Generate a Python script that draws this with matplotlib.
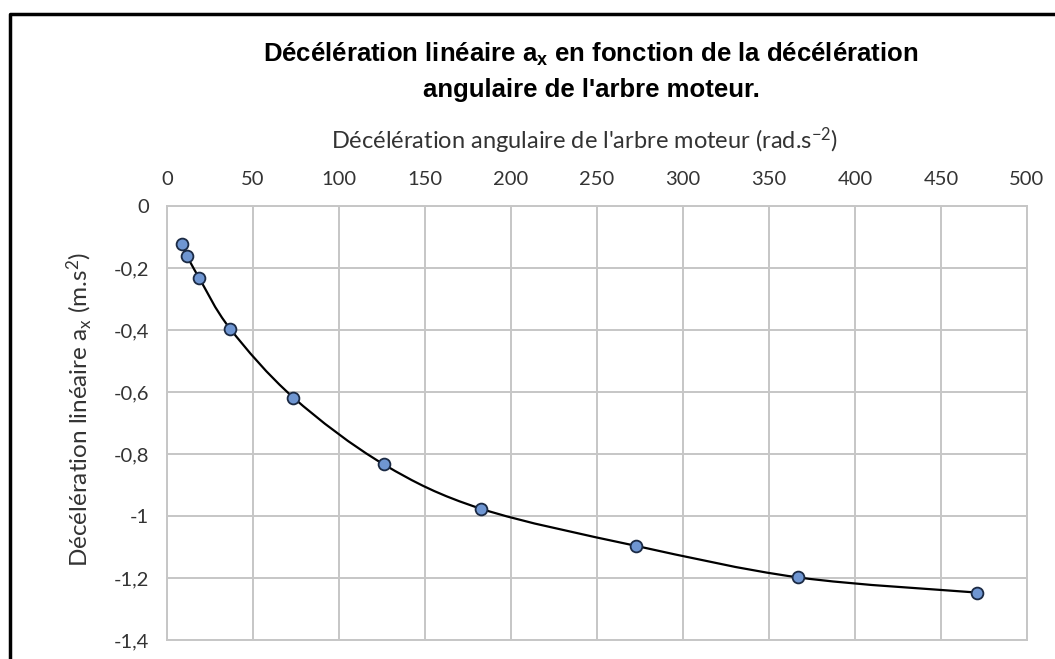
#!/usr/bin/env python3
"""Décélération linéaire a_x vs décélération angulaire de l'arbre moteur."""
import matplotlib
matplotlib.use("Agg")
import matplotlib.pyplot as plt
from matplotlib.path import Path
from matplotlib.patches import PathPatch
from matplotlib.lines import Line2D

# values
ang_dec = [8.5, 11.5, 18.6, 36.7, 73.5, 125.9, 182.8, 272.4, 366.9, 470.9]
lin_dec = [-0.124, -0.160, -0.231, -0.396, -0.618, -0.833, -0.977, -1.096, -1.198, -1.247]
x_ticks = [0, 50, 100, 150, 200, 250, 300, 350, 400, 450, 500]
y_ticks = [0, -0.2, -0.4, -0.6, -0.8, -1.0, -1.2, -1.4]
y_labels = ["0", "-0,2", "-0,4", "-0,6", "-0,8", "-1", "-1,2", "-1,4"]

plt.rcParams["mathtext.default"] = "regular"
LBL = "Lato"
TXT = "#333333"
W, H = 1055, 659


def smooth_path(xs, ys):
    # Excel-style smoothed line: cubic Bezier through every point
    pts = list(zip(xs, ys))
    n = len(pts)
    verts = [pts[0]]
    codes = [Path.MOVETO]
    for i in range(n - 1):
        p0 = pts[i - 1] if i > 0 else pts[i]
        p1 = pts[i]
        p2 = pts[i + 1]
        p3 = pts[i + 2] if i + 2 < n else pts[i + 1]
        c1 = (p1[0] + (p2[0] - p0[0]) / 6, p1[1] + (p2[1] - p0[1]) / 6)
        c2 = (p2[0] - (p3[0] - p1[0]) / 6, p2[1] - (p3[1] - p1[1]) / 6)
        verts += [c1, c2, p2]
        codes += [Path.CURVE4] * 3
    return Path(verts, codes)


def px(x, y):
    # pixel position (from top-left) -> figure fraction
    return x / W, 1 - y / H


fig = plt.figure(figsize=(W / 100, H / 100), dpi=100)
ax = fig.add_axes([167 / W, 1 - 640 / H, 860 / W, 434 / H])

ax.add_patch(PathPatch(smooth_path(ang_dec, lin_dec), facecolor="none",
                       edgecolor="black", lw=1.6, zorder=3))
ax.plot(ang_dec, lin_dec, ls="none", marker="o", ms=8.5,
        mfc="#6f96d2", mec="#1b2a44", mew=1.3, zorder=4)

ax.set_xlim(0, 500)
ax.set_ylim(-1.4, 0)
ax.xaxis.tick_top()
ax.set_xticks(x_ticks)
ax.set_xticklabels([str(v) for v in x_ticks])
ax.set_yticks(y_ticks)
ax.set_yticklabels(y_labels)
ax.tick_params(length=0, labelsize=14.5, colors=TXT)
ax.tick_params(axis="x", pad=13)
ax.tick_params(axis="y", pad=13)
for lab in ax.get_xticklabels() + ax.get_yticklabels():
    lab.set_family(LBL)
ax.grid(True, color="#c6c6c6", lw=1.4)
ax.set_axisbelow(True)
for s in ax.spines.values():
    s.set_color("#c6c6c6")
    s.set_linewidth(1.4)

# axis titles
fig.text(*px(585, 149), "Décélération angulaire de l'arbre moteur (rad.s$^{-2}$)",
         ha="center", va="baseline", family=LBL, fontsize=17, color=TXT)
fig.text(*px(79, 410), "Décélération linéaire a$_x$ (m.s$^2$)", rotation=90,
         ha="center", va="center", family=LBL, fontsize=17.5, color=TXT)

# chart title, two lines
fig.text(*px(591, 62), "Décélération linéaire a$_x$ en fonction de la décélération",
         ha="center", va="baseline", family="Liberation Sans", weight="bold",
         fontsize=18.5)
fig.text(*px(591, 97), "angulaire de l'arbre moteur.",
         ha="center", va="baseline", family="Liberation Sans", weight="bold",
         fontsize=18.5)

# black frame (top and left edges visible)
fig.add_artist(Line2D([9.5 / W, 9.5 / W, 1.0], [0.0, 1 - 13.5 / H, 1 - 13.5 / H],
                      transform=fig.transFigure, color="black", lw=2.5))

fig.savefig("out.png", dpi=100)
